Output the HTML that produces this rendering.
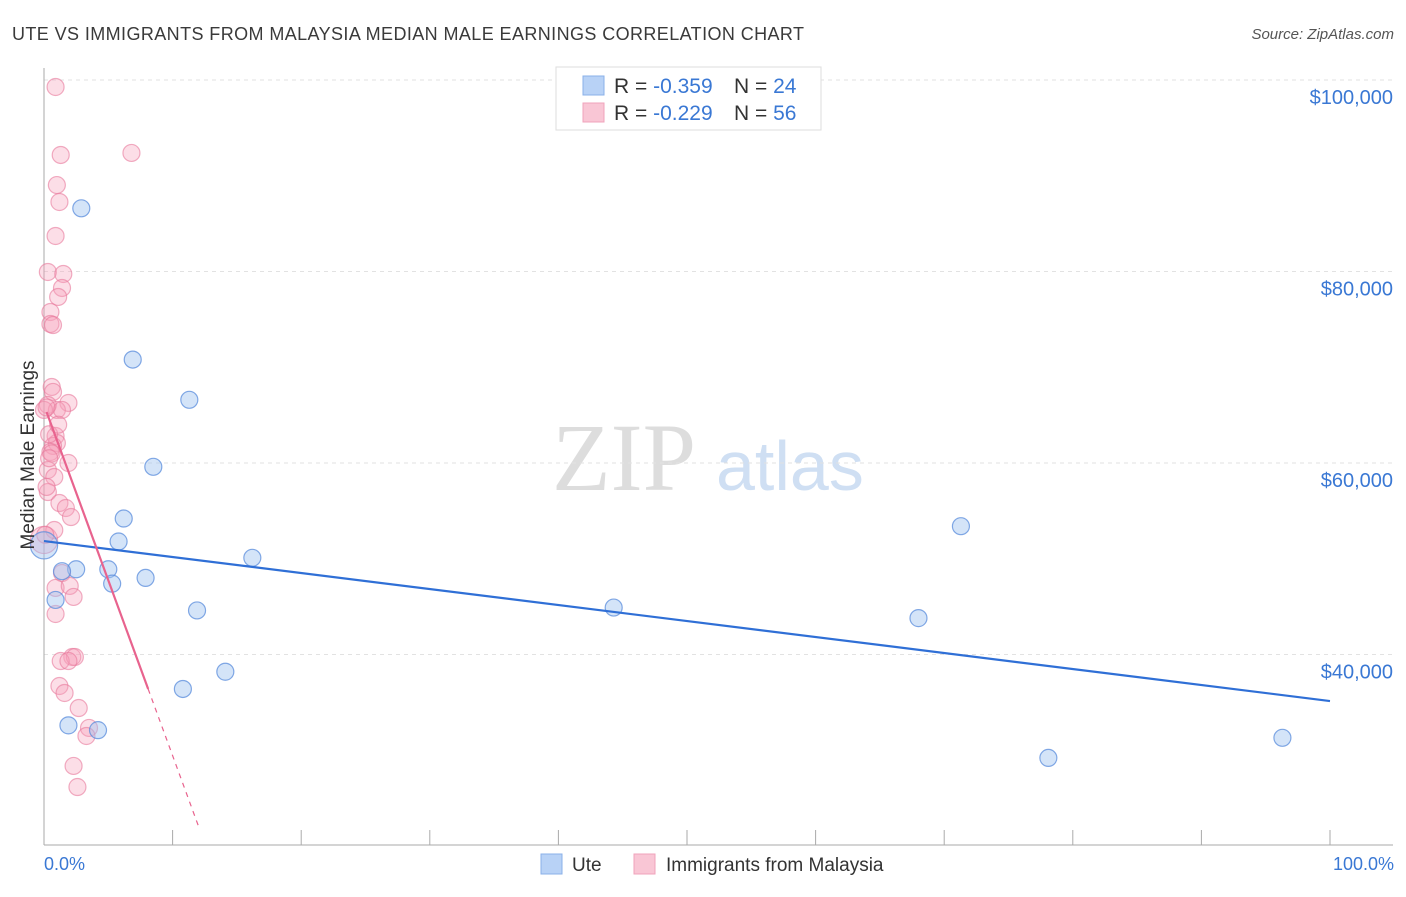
<!DOCTYPE html>
<html><head><meta charset="utf-8"><style>
body{margin:0;background:#fff;font-family:"Liberation Sans",sans-serif;}
</style></head><body>
<svg id="chart" width="1406" height="892" viewBox="0 0 1406 892" xmlns="http://www.w3.org/2000/svg">
<text x="12" y="40" font-size="18" fill="#3a3a3a" textLength="792">UTE VS IMMIGRANTS FROM MALAYSIA MEDIAN MALE EARNINGS CORRELATION CHART</text>
<text x="1394" y="39" font-size="15" fill="#555" font-style="italic" text-anchor="end">Source: ZipAtlas.com</text>
<text x="552" y="490" font-size="96" fill="#ddd" font-family="Liberation Serif,serif">ZIP</text>
<text x="716" y="490" font-size="70" fill="#cfdff3">atlas</text>
<g id="grid"></g>
<g id="axes"></g>
<g id="marks"></g>
<text transform="translate(34,455) rotate(-90)" font-size="19" fill="#333" text-anchor="middle">Median Male Earnings</text>
<text x="44" y="870" font-size="18" fill="#3a78d4">0.0%</text>
<text x="1394" y="870" font-size="18" fill="#3a78d4" text-anchor="end">100.0%</text>
<g>
<rect x="556" y="67" width="265" height="63" fill="#fff" stroke="#ddd"/>
<rect x="583" y="76" width="21" height="19" fill="#b8d2f6" stroke="#8ab0e8"/>
<rect x="583" y="103" width="21" height="19" fill="#f9c6d5" stroke="#f0a3bb"/>
<text x="614" y="93" font-size="21" fill="#333">R = <tspan fill="#3a78d4">-0.359</tspan><tspan x="734">N = </tspan><tspan fill="#3a78d4">24</tspan></text>
<text x="614" y="120" font-size="21" fill="#333">R = <tspan fill="#3a78d4">-0.229</tspan><tspan x="734">N = </tspan><tspan fill="#3a78d4">56</tspan></text>
</g>
<g>
<rect x="541" y="854" width="21" height="20" fill="#b8d2f6" stroke="#8ab0e8"/>
<text x="572" y="871" font-size="19" fill="#333">Ute</text>
<rect x="634" y="854" width="21" height="20" fill="#f9c6d5" stroke="#f0a3bb"/>
<text x="666" y="871" font-size="19" fill="#333">Immigrants from Malaysia</text>
</g>
</svg>
<script>
const yTicks=[100000,80000,60000,40000];
const yTickLabels=["$100,000","$80,000","$60,000","$40,000"];
const xTicks=[0,10,20,30,40,50,60,70,80,90,100];
const uteX=[2.9,6.9,11.3,8.5,6.2,5.8,16.2,2.5,5.0,1.4,5.3,7.9,0.9,11.9,14.1,10.8,1.9,4.2,44.3,68.0,71.3,78.1,96.3,0];
const uteY=[86600,70800,66600,59600,54200,51800,50100,48900,48900,48700,47400,48000,45700,44600,38200,36400,32600,32100,44900,43800,53400,29200,31300,51400];
const malX=[0.9,1.3,6.8,1.0,1.2,0.9,0.3,1.5,1.4,1.1,0.5,0.5,0.7,0.6,0.7,0.3,1.9,1.0,1.4,0,0.9,1.0,0.7,0.5,1.9,0.3,0.8,0.3,1.2,1.7,2.1,0,1.4,0.9,2.0,2.3,0.9,2.2,2.4,1.3,1.9,1.2,1.6,2.7,3.5,3.3,2.3,2.6,0.2,0.4,0.6,0.2,1.1,0.4,0.8,0.1];
const malY=[99270,92170,92380,89030,87260,83710,79950,79740,78280,77340,75770,74520,74410,67940,67420,66060,66270,65540,65540,65540,62820,62090,61780,61150,60000,59270,58540,56970,55820,55300,54360,51960,48510,46950,47160,46010,44230,39740,39740,39320,39320,36710,35980,34410,32330,31490,28360,26160,65800,63000,61000,57500,64000,60500,53000,52500];
const malSize=[1,1,1,1,1,1,1,1,1,1,1,1,1,1,1,1,1,1,1,1,1,1,1,1,1,1,1,1,1,1,1,1.6,1,1,1,1,1,1,1,1,1,1,1,1,1,1,1,1,1,1,1,1,1,1,1,1];
const uteTrend=[51850,35140];
const malTrend=[66060,-3662];
const malTrendSolidEnd=8.1, malTrendDashEnd=12.1;
const NS="http://www.w3.org/2000/svg";
const X=v=>44+v*12.86;
const Y=v=>80+(100000-v)*191.5/20000;
function mk(tag,attrs,parent){const e=document.createElementNS(NS,tag);for(const k in attrs)e.setAttribute(k,attrs[k]);parent.appendChild(e);return e;}
const grid=document.getElementById('grid'),axes=document.getElementById('axes'),marks=document.getElementById('marks');
yTicks.forEach((t,i)=>{
  const l=mk('line',{x1:44,x2:1393,y1:Y(t),y2:Y(t),stroke:'#e2e2e2','stroke-dasharray':'4,4'},grid);
  
  
  const tx=mk('text',{x:1393,y:Y(t)+24,'font-size':20,fill:'#3a78d4','text-anchor':'end'},axes);
  tx.textContent=yTickLabels[i];
  
  
});
const ax=mk('line',{x1:44,x2:44,y1:68,y2:845,stroke:'#aaa'},axes);


const bx=mk('line',{x1:44,x2:1393,y1:845,y2:845,stroke:'#aaa'},axes);


xTicks.forEach(t=>{
  const l=mk('line',{x1:X(t),x2:X(t),y1:830,y2:845,stroke:'#aaa'},axes);
  
  
});
malX.forEach((x,i)=>{
  const c=mk('circle',{cx:X(x),cy:Y(malY[i]),r:8.5*(malSize[i]||1),fill:'rgba(246,160,186,0.35)',stroke:'rgba(232,120,155,0.6)','stroke-width':1.2},marks);
  
  
});
uteX.forEach((x,i)=>{
  const big=(x===0)?1.6:1;
  const c=mk('circle',{cx:X(x),cy:Y(uteY[i]),r:8.5*big,fill:'rgba(160,195,240,0.45)',stroke:'rgba(90,140,220,0.75)','stroke-width':1.2},marks);
  
  
});
const ut=mk('line',{x1:X(0),y1:Y(uteTrend[0]),x2:X(100),y2:Y(uteTrend[1]),stroke:'#2f6fd6','stroke-width':2.2},marks);


const mf=x=>malTrend[0]+malTrend[1]*x;
const ms=mk('line',{x1:X(0.2),y1:Y(mf(0.2)),x2:X(malTrendSolidEnd),y2:Y(mf(malTrendSolidEnd)),stroke:'#e8638e','stroke-width':2.2},marks);


const md=mk('line',{x1:X(malTrendSolidEnd),y1:Y(mf(malTrendSolidEnd)),x2:X(malTrendDashEnd),y2:Y(mf(malTrendDashEnd)),stroke:'#e8638e','stroke-width':1.2,'stroke-dasharray':'5,5'},marks);


</script>
</body></html>
